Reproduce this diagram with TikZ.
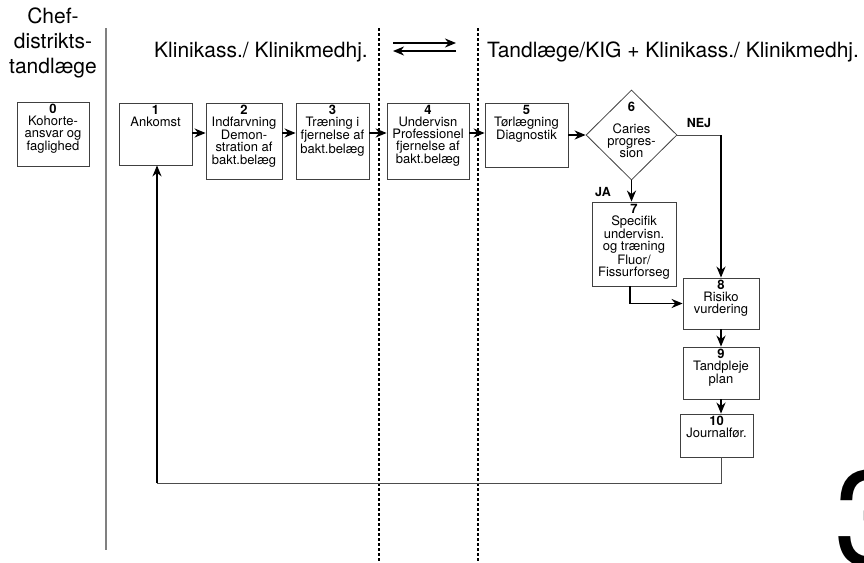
\documentclass[tikz,border=0pt]{standalone}
\usepackage{fontspec}
\setmainfont{TeX Gyre Heros}
\usetikzlibrary{arrows.meta,shapes.geometric}
\tikzset{
  box/.style={draw=black!75, line width=0.8pt, inner sep=0pt},
  boxtext/.style={align=center, inner sep=2pt, font=\fontsize{13}{12.2}\selectfont},
  arr/.style={line width=1.9pt, -{Stealth[length=11pt,width=9pt,inset=3.5pt]}},
  thinline/.style={line width=0.8pt, draw=black!70},
  head/.style={font=\fontsize{21}{25}\selectfont, align=center},
  answer/.style={font=\fontsize{12.5}{13}\selectfont\bfseries},
  lane/.style={line width=1.4pt, dash pattern=on 3pt off 2pt}
}
\begin{document}
\begin{tikzpicture}[x=1pt,y=-1pt]
\clip (0,0) rectangle (864,562);
% lanes
\draw[line width=1.5pt, black!50] (106,28) -- (106,550);
\draw[lane] (379,28) -- (379,562);
\draw[lane] (478,28) -- (478,562);
\node[head] (hchef) at (53,43) {Chef-\\distrikts-\\tandlæge};
\node[head] (hkl) at (261,52) {Klinikass./ Klinikmedhj.};
\node[head] (htl) at (673,52) {Tandlæge/KIG + Klinikass./ Klinikmedhj.};
\coordinate (sw1) at (393,43);
\coordinate (sw2) at (456,43);
\coordinate (sw3) at (456,51);
\coordinate (sw4) at (393,51);
\draw[arr] (sw1) -- (sw2);
\draw[arr] (sw3) -- (sw4);
% boxes
\node[box, minimum width=72, minimum height=64] (b0) at (53,134) {};
\node[boxtext, below] (t0) at (b0.north) {\textbf{0}\\Kohorte-\\ansvar og\\faglighed};
\node[box, minimum width=73, minimum height=62] (b1) at (155.5,134) {};
\node[boxtext, below] (t1) at (b1.north) {\textbf{1}\\Ankomst};
\node[box, minimum width=76, minimum height=76] (b2) at (244,141) {};
\node[boxtext, below] (t2) at (b2.north) {\textbf{2}\\Indfarvning\\Demon-\\stration af\\bakt.belæg};
\node[box, minimum width=73, minimum height=76] (b3) at (332.5,141) {};
\node[boxtext, below] (t3) at (b3.north) {\textbf{3}\\Træning i\\fjernelse af\\bakt.belæg};
\node[box, minimum width=82, minimum height=76] (b4) at (428,141) {};
\node[boxtext, below] (t4) at (b4.north) {\textbf{4}\\Undervisn\\Professionel\\fjernelse af\\bakt.belæg};
\node[box, minimum width=83, minimum height=64] (b5) at (526.5,135) {};
\node[boxtext, below] (t5) at (b5.north) {\textbf{5}\\Tørlægning\\Diagnostik};
\node[box, diamond, minimum width=91, minimum height=90] (d6) at (631.5,135) {};
\node[boxtext] (n6) at (631.5,107) {\textbf{6}};
\node[boxtext] (t6) at (631.5,141) {Caries\\progres-\\sion};
\node[box, minimum width=84, minimum height=84] (b7) at (634,244) {};
\node[boxtext, below] (t7) at (b7.north) {\textbf{7}\\Specifik\\undervisn.\\og træning\\Fluor/\\Fissurforseg};
\node[box, minimum width=76, minimum height=51] (b8) at (721,303.5) {};
\node[boxtext, below] (t8) at (b8.north) {\textbf{8}\\Risiko\\vurdering};
\node[box, minimum width=76, minimum height=52] (b9) at (721,373) {};
\node[boxtext, below] (t9) at (b9.north) {\textbf{9}\\Tandpleje\\plan};
\node[box, minimum width=73, minimum height=43] (b10) at (716.5,435.5) {};
\node[boxtext, below] (t10) at (b10.north) {\textbf{10}\\Journalfør.};
\node[answer] (nej) at (699,123) {NEJ};
\node[answer] (ja) at (603,192) {JA};
% flow
\draw[arr] ([yshift=1pt]b1.east) -- ([yshift=8pt]b2.west);
\draw[arr] ([yshift=8pt]b2.east) -- ([yshift=8pt]b3.west);
\draw[arr] ([yshift=8pt]b3.east) -- ([yshift=8pt]b4.west);
\draw[arr] ([yshift=8pt]b4.east) -- ([yshift=2pt]b5.west);
\draw[arr] (b5.east) -- (d6.west);
\draw[arr] (d6.south) -- (d6.south |- b7.north);
\coordinate (nejc) at (d6.east -| b8.north);
\draw[thinline] (d6.east) -- (nejc);
\draw[arr] (nejc) -- (b8.north);
\draw[arr] ([xshift=-4pt]b7.south) |- (b8.west);
\draw[arr] (b8.south) -- (b9.north);
\draw[arr] (b9.south) -- (b9.south |- b10.north);
\coordinate (ret) at (721,483);
\coordinate (retl) at (157,483);
\draw[thinline] (b10.south -| ret) -- (ret) -- (retl);
\draw[arr] (retl) -- (retl |- b1.south);
\node[anchor=base west, inner sep=0pt, font=\fontsize{135}{135}\selectfont] (pg) at (834,565) {3};
\end{tikzpicture}
\end{document}
